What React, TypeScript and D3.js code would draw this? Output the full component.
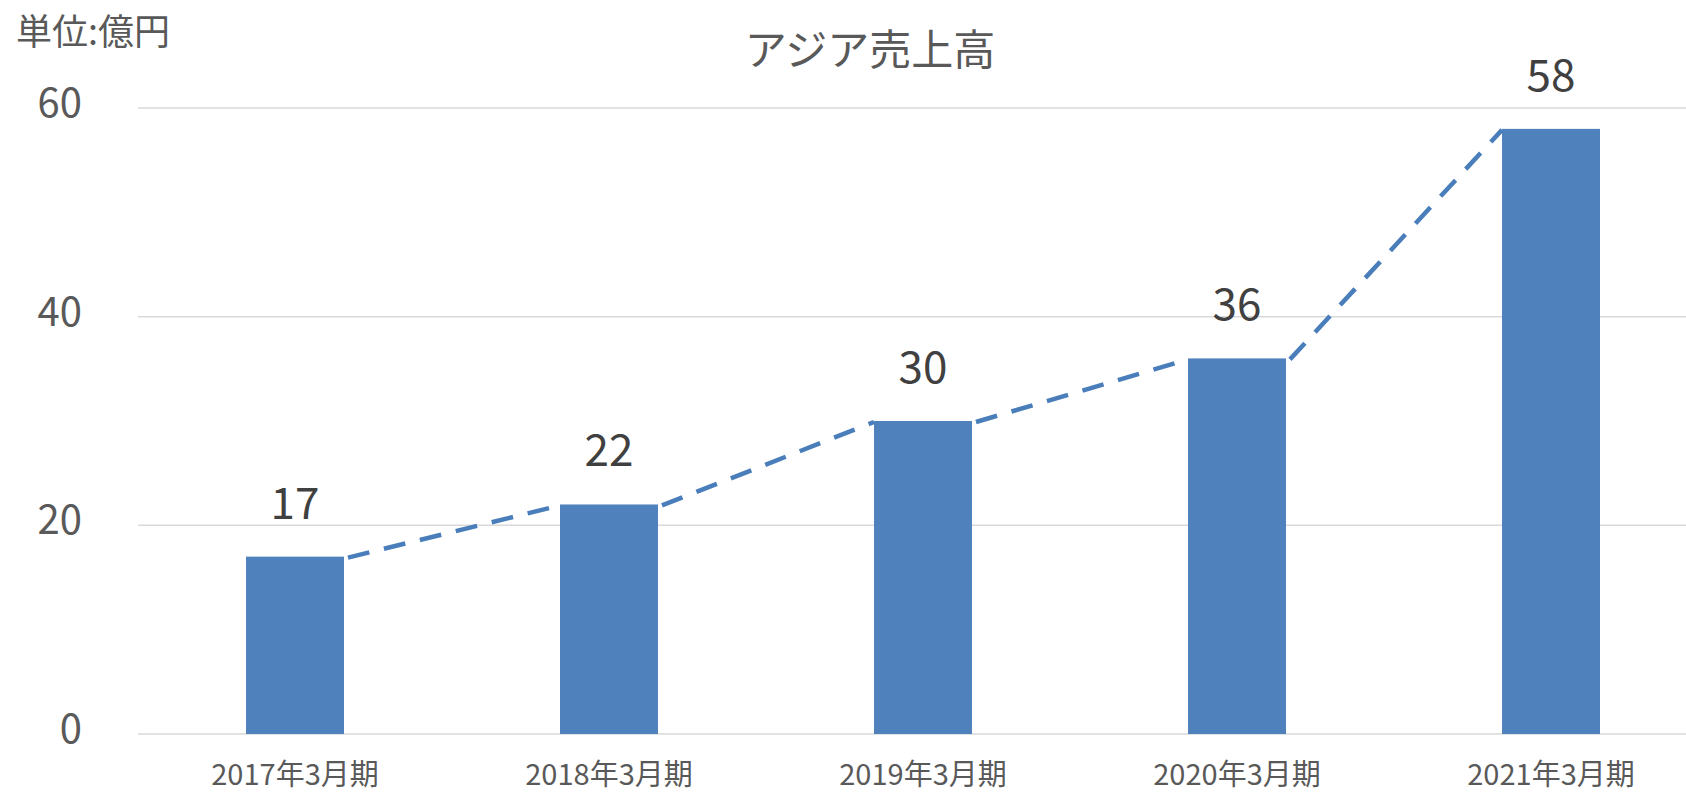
import React, { useEffect, useRef } from "react";
import * as d3 from "d3";

// chart data
const categories = ["2017年3月期", "2018年3月期", "2019年3月期", "2020年3月期", "2021年3月期"];
const sales = [17, 22, 30, 36, 58];
const yTicks = [0, 20, 40, 60];
const title = "アジア売上高";
const unitLabel = "単位:億円";

const W = 1686;
const H = 794;
const FONT = "'Noto Sans CJK JP', 'Noto Sans', sans-serif";

export default function App() {
  const ref = useRef<SVGSVGElement>(null);

  useEffect(() => {
    const svg = d3.select(ref.current);
    svg.selectAll("*").remove();

    // plot area (right edge runs past the picture)
    const left = 138,
      right = 1708,
      top = 108,
      bottom = 734;

    const x = d3.scaleBand().domain(categories).range([left, right]).padding(0);
    const y = d3.scaleLinear().domain([0, 60]).range([bottom, top]);
    const barW = x.bandwidth() * 0.312;

    // gridlines
    svg
      .append("g")
      .selectAll("line")
      .data(yTicks)
      .join("line")
      .attr("x1", left)
      .attr("x2", W)
      .attr("y1", (d) => y(d))
      .attr("y2", (d) => y(d))
      .attr("stroke", "#d9d9d9")
      .attr("stroke-width", 1.5);

    // y tick labels
    svg
      .append("g")
      .selectAll("text")
      .data(yTicks)
      .join("text")
      .attr("x", 82)
      .attr("y", (d) => y(d) + 9)
      .attr("text-anchor", "end")
      .attr("font-family", FONT)
      .attr("font-size", 40)
      .attr("fill", "#595959")
      .text((d) => d);

    // bars
    svg
      .append("g")
      .selectAll("rect")
      .data(sales)
      .join("rect")
      .attr("x", (d, i) => x(categories[i])! + x.bandwidth() / 2 - barW / 2)
      .attr("y", (d) => y(d))
      .attr("width", barW)
      .attr("height", (d) => bottom - y(d))
      .attr("fill", "#4f81bd");

    // series lines: top-right of one bar to top-left of the next
    const segs = d3.pairs(sales.map((v, i) => ({ v, c: categories[i] })));
    svg
      .append("g")
      .selectAll("line")
      .data(segs)
      .join("line")
      .attr("x1", ([a]) => x(a.c)! + x.bandwidth() / 2 + barW / 2 + 4)
      .attr("y1", ([a]) => y(a.v) + 1)
      .attr("x2", ([, b]) => x(b.c)! + x.bandwidth() / 2 - barW / 2)
      .attr("y2", ([, b]) => y(b.v) + 1)
      .attr("stroke", "#4a7ebb")
      .attr("stroke-width", 4.5)
      .attr("stroke-dasharray", "22,15");

    // data labels
    svg
      .append("g")
      .selectAll("text")
      .data(sales)
      .join("text")
      .attr("x", (d, i) => x(categories[i])! + x.bandwidth() / 2)
      .attr("y", (d) => y(d) - 38)
      .attr("text-anchor", "middle")
      .attr("font-family", FONT)
      .attr("font-size", 44)
      .attr("fill", "#404040")
      .text((d) => d);

    // x labels
    svg
      .append("g")
      .selectAll("text")
      .data(categories)
      .join("text")
      .attr("x", (d) => x(d)! + x.bandwidth() / 2)
      .attr("y", 785)
      .attr("text-anchor", "middle")
      .attr("font-family", FONT)
      .attr("font-size", 29)
      .attr("fill", "#595959")
      .text((d) => d);

    // title
    svg
      .append("text")
      .attr("x", 870)
      .attr("y", 65)
      .attr("text-anchor", "middle")
      .attr("font-family", FONT)
      .attr("font-size", 42)
      .attr("fill", "#595959")
      .text(title);

    // unit label
    svg
      .append("text")
      .attr("x", 16)
      .attr("y", 45)
      .attr("font-family", FONT)
      .attr("font-size", 36)
      .attr("fill", "#595959")
      .text(unitLabel);
  }, []);

  return (
    <svg
      ref={ref}
      width={W}
      height={H}
      style={{ position: "absolute", left: 0, top: 0, background: "#fff" }}
    />
  );
}
